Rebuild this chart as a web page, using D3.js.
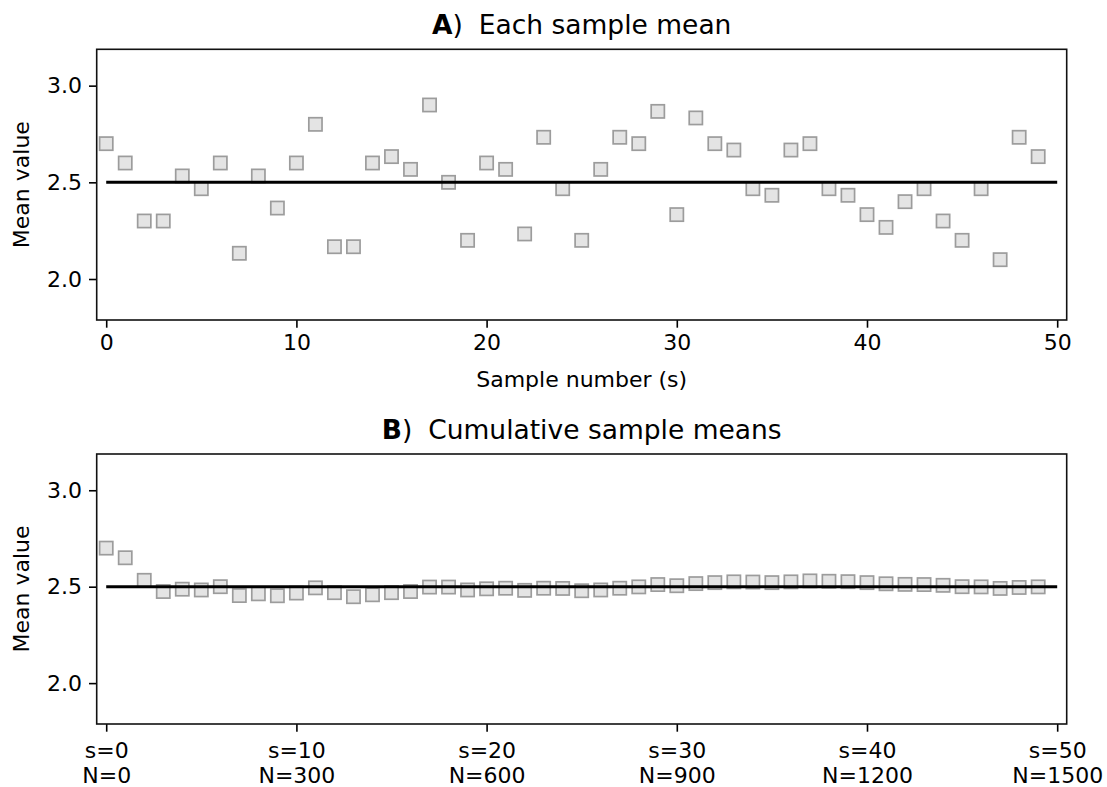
<!doctype html>
<html>
  <head>
    <script src="https://d3js.org/d3.v7.min.js"></script>
    <style>
      body { margin: 0; background: white; }
      text { font-family: "DejaVu Sans", sans-serif; fill: #000; }
    </style>
  </head>

  <body>
    <svg class="chart" width="1107" height="787"></svg>

    <script>
        // sample number s = 0..49
        var samples = d3.range(50);

        // A) each sample mean
        var sampleMeans = [2.700, 2.600, 2.300, 2.300, 2.533, 2.467, 2.600, 2.133, 2.533, 2.367,
                           2.600, 2.800, 2.167, 2.167, 2.600, 2.633, 2.567, 2.900, 2.500, 2.200,
                           2.600, 2.567, 2.233, 2.733, 2.467, 2.200, 2.567, 2.733, 2.700, 2.867,
                           2.333, 2.833, 2.700, 2.667, 2.467, 2.433, 2.667, 2.700, 2.467, 2.433,
                           2.333, 2.267, 2.400, 2.467, 2.300, 2.200, 2.467, 2.100, 2.733, 2.633];

        // B) cumulative sample means
        var cumMeans = [2.700, 2.650, 2.533, 2.475, 2.487, 2.483, 2.500, 2.454, 2.463, 2.453,
                        2.467, 2.494, 2.469, 2.448, 2.458, 2.469, 2.475, 2.498, 2.498, 2.483,
                        2.489, 2.492, 2.481, 2.492, 2.491, 2.479, 2.483, 2.492, 2.499, 2.511,
                        2.505, 2.516, 2.521, 2.525, 2.524, 2.521, 2.525, 2.530, 2.528, 2.526,
                        2.521, 2.515, 2.512, 2.511, 2.507, 2.500, 2.499, 2.491, 2.496, 2.499];

        var trueMean = 2.5;
        var meanLineX = [0, 50];

        var xTicks = [0, 10, 20, 30, 40, 50];
        var yTicks = [2.0, 2.5, 3.0];
        var sLabels = ["s=0", "s=10", "s=20", "s=30", "s=40", "s=50"];
        var nLabels = ["N=0", "N=300", "N=600", "N=900", "N=1200", "N=1500"];

        var svg = d3.select("svg");
        var left = 96.7, right = 1066.7;
        var xDomain = [-0.5, 50.5], yDomain = [1.788, 3.188];

        function drawPanel(top, bottom, values, letter, title) {
            var xScale = d3.scaleLinear().domain(xDomain).range([left, right]);
            var yScale = d3.scaleLinear().domain(yDomain).range([bottom, top]);

            // y axis
            var gy = svg.append("g")
                .attr("transform", "translate(" + left + ",0)")
                .call(d3.axisLeft(yScale).tickValues(yTicks).tickFormat(d3.format(".1f"))
                    .tickSize(7.7).tickPadding(7));
            gy.select(".domain").remove();
            gy.selectAll("line").attr("stroke", "#000").attr("stroke-width", 1.6);
            gy.selectAll("text").style("font-size", "22px").attr("fill", "#1a1a1a");

            // x axis
            var gx = svg.append("g")
                .attr("transform", "translate(0," + bottom + ")")
                .call(d3.axisBottom(xScale).tickValues(xTicks).tickSize(7.7).tickPadding(7));
            gx.select(".domain").remove();
            gx.selectAll("line").attr("stroke", "#000").attr("stroke-width", 1.6);
            gx.selectAll("text").style("font-size", "22px").attr("fill", "#1a1a1a");

            // markers
            var sz = 13.2;
            svg.append("g").selectAll("rect")
                .data(samples)
                .enter().append("rect")
                    .attr("x", function(d){return xScale(d) - sz / 2;} )
                    .attr("y", function(d){return yScale(values[d]) - sz / 2;} )
                    .attr("width", sz)
                    .attr("height", sz)
                    .attr("fill", "#e4e4e4")
                    .attr("stroke", "#9c9c9c")
                    .attr("stroke-width", 1.7);

            // reference line at the population mean
            svg.append("line")
                .attr("x1", xScale(meanLineX[0]))
                .attr("x2", xScale(meanLineX[1]))
                .attr("y1", yScale(trueMean))
                .attr("y2", yScale(trueMean))
                .attr("stroke", "#000")
                .attr("stroke-width", 3);

            // frame
            svg.append("rect")
                .attr("x", left).attr("y", top)
                .attr("width", right - left).attr("height", bottom - top)
                .attr("fill", "none").attr("stroke", "#111").attr("stroke-width", 1.6);

            // y label
            svg.append("text")
                .attr("transform", "translate(28.5," + (top + bottom) / 2 + ") rotate(-90)")
                .attr("text-anchor", "middle")
                .style("font-size", "22px")
                .attr("fill", "#1a1a1a")
                .text("Mean value");

            // title
            var t = svg.append("text")
                .attr("x", (left + right) / 2)
                .attr("y", top - 15)
                .attr("text-anchor", "middle")
                .style("font-size", "26.5px")
                .attr("fill", "#1a1a1a");
            t.append("tspan").style("font-weight", "bold").text(letter);
            t.append("tspan").text(")");
            t.append("tspan").attr("dx", "0.6em").text(title);

            return gx;
        }

        drawPanel(49.3, 320, sampleMeans, "A", "Each sample mean");

        svg.append("text")
            .attr("x", (left + right) / 2)
            .attr("y", 387)
            .attr("text-anchor", "middle")
            .style("font-size", "22px")
            .attr("fill", "#1a1a1a")
            .text("Sample number (s)");

        var gxB = drawPanel(454, 724, cumMeans, "B", "Cumulative sample means");

        // two-line tick labels for panel B
        gxB.selectAll(".tick text").each(function(d, i) {
            var el = d3.select(this);
            el.text(null).attr("dy", null).attr("y", 0);
            el.append("tspan").attr("x", 0).attr("y", 33.5).text(sLabels[i]);
            el.append("tspan").attr("x", 0).attr("y", 58.5).text(nLabels[i]);
        });
    </script>
  </body>
</html>
